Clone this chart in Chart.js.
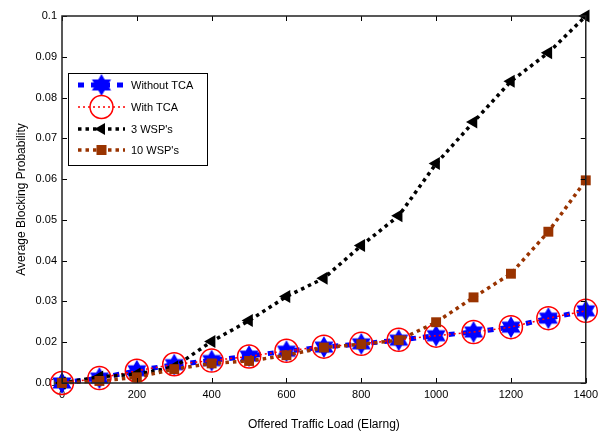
<!DOCTYPE html>
<html>
<head>
<meta charset="utf-8">
<script src="https://cdn.jsdelivr.net/npm/chart.js@4/dist/chart.umd.min.js"></script>
<style>
  html, body { margin: 0; padding: 0; background: #fff; }
  #wrap { width: 603px; height: 436px; }
</style>
</head>
<body>
<div id="wrap"><canvas id="myChart" width="603" height="436"></canvas></div>
<script>
// data
const loads = [0, 100, 200, 300, 400, 500, 600, 700, 800, 900, 1000, 1100, 1200, 1300, 1400];
const withoutTCA = [0.0100, 0.0112, 0.0130, 0.0145, 0.0155, 0.0166, 0.0178, 0.0188, 0.0196, 0.0205, 0.0216, 0.0225, 0.0237, 0.0259, 0.0277];
const withTCA = [0.0100, 0.0112, 0.0130, 0.0146, 0.0155, 0.0165, 0.0179, 0.0189, 0.0196, 0.0206, 0.0216, 0.0225, 0.0237, 0.0259, 0.0277];
const wsp3 = [0.0100, 0.0115, 0.0122, 0.0139, 0.0202, 0.0253, 0.0312, 0.0357, 0.0437, 0.0510, 0.0638, 0.0740, 0.0840, 0.0910, 0.1000];
const wsp10 = [0.0100, 0.0105, 0.0114, 0.0134, 0.0148, 0.0154, 0.0168, 0.0187, 0.0195, 0.0205, 0.0249, 0.0310, 0.0368, 0.0471, 0.0597];
const seriesNames = ["Without TCA", "With TCA", "3 WSP's", "10 WSP's"];
const xTicks = [0, 200, 400, 600, 800, 1000, 1200, 1400];
const yTicks = [0.01, 0.02, 0.03, 0.04, 0.05, 0.06, 0.07, 0.08, 0.09, 0.1];

const BLUE = "#0000ff";
const RED = "#ff0000";
const BLACK = "#000000";
const BROWN = "#993300";
const FONT = "'Liberation Sans', Arial, sans-serif";

// six pointed star (hexagram) marker
function makeHexagram(r, color) {
  const c = document.createElement("canvas");
  const s = Math.ceil(r * 2 + 4);
  c.width = s; c.height = s;
  const g = c.getContext("2d");
  const cx = s / 2, cy = s / 2;
  const inner = r / Math.sqrt(3);
  g.beginPath();
  for (let i = 0; i < 12; i++) {
    const a = -Math.PI / 2 + i * Math.PI / 6;
    const rr = i % 2 === 0 ? r : inner;
    const px = cx + rr * Math.cos(a), py = cy + rr * Math.sin(a);
    if (i === 0) g.moveTo(px, py); else g.lineTo(px, py);
  }
  g.closePath();
  g.fillStyle = color;
  g.fill();
  return c;
}
const hexStar = makeHexagram(11, BLUE);

function toXY(ys) {
  return loads.map((x, i) => ({ x: x, y: ys[i] }));
}

// inward ticks + box, matlab style
const boxPlugin = {
  id: "box",
  afterDatasetsDraw(chart) {
    const { ctx, chartArea: a, scales } = chart;
    ctx.save();
    ctx.strokeStyle = "#000";
    ctx.lineWidth = 1;
    ctx.beginPath();
    xTicks.forEach(v => {
      const px = Math.round(scales.x.getPixelForValue(v)) + 0.5;
      ctx.moveTo(px, a.bottom); ctx.lineTo(px, a.bottom - 5);
      ctx.moveTo(px, a.top); ctx.lineTo(px, a.top + 5);
    });
    yTicks.forEach(v => {
      const py = Math.round(scales.y.getPixelForValue(v)) + 0.5;
      ctx.moveTo(a.left, py); ctx.lineTo(a.left + 5, py);
      ctx.moveTo(a.right, py); ctx.lineTo(a.right - 5, py);
    });
    ctx.stroke();
    ctx.lineWidth = 1.5;
    ctx.strokeStyle = "#222";
    ctx.strokeRect(a.left, a.top, a.right - a.left, a.bottom - a.top);
    ctx.restore();
  }
};

// legend with line sample and marker
const legendPlugin = {
  id: "matLegend",
  afterDraw(chart) {
    const ctx = chart.ctx;
    const bx = 68, by = 73, bw = 139, bh = 92;
    ctx.save();
    ctx.fillStyle = "#fff";
    ctx.fillRect(bx, by, bw, bh);
    ctx.strokeStyle = "#000";
    ctx.lineWidth = 1;
    ctx.strokeRect(bx + 0.5, by + 0.5, bw, bh);
    const rowY = [85, 107, 129, 150];
    chart.data.datasets.forEach((ds, i) => {
      const y = rowY[i];
      ctx.save();
      ctx.strokeStyle = ds.borderColor;
      ctx.lineWidth = ds.borderWidth;
      ctx.setLineDash(ds.borderDash);
      ctx.beginPath();
      ctx.moveTo(78, y); ctx.lineTo(125, y);
      ctx.stroke();
      ctx.restore();
      const mx = 101.5;
      if (i === 0) {
        ctx.drawImage(hexStar, mx - hexStar.width / 2, y - hexStar.height / 2);
      } else if (i === 1) {
        ctx.strokeStyle = RED; ctx.lineWidth = 1.5;
        ctx.beginPath(); ctx.arc(mx, y, 11.5, 0, Math.PI * 2); ctx.stroke();
      } else if (i === 2) {
        ctx.fillStyle = BLACK;
        ctx.beginPath();
        ctx.moveTo(mx - 7, y); ctx.lineTo(mx + 3.5, y - 6); ctx.lineTo(mx + 3.5, y + 6);
        ctx.closePath(); ctx.fill();
      } else {
        ctx.fillStyle = BROWN;
        ctx.fillRect(mx - 5, y - 5, 10, 10);
      }
      ctx.fillStyle = "#000";
      ctx.font = "11px " + FONT;
      ctx.textBaseline = "middle";
      ctx.fillText(ds.label, 131, y + 1);
    });
    ctx.restore();
  }
};

new Chart("myChart", {
  type: "line",
  data: {
    datasets: [
      {
        label: seriesNames[0],
        data: toXY(withoutTCA),
        borderColor: BLUE,
        backgroundColor: BLUE,
        borderWidth: 5,
        borderDash: [6, 7],
        pointStyle: hexStar,
        pointRadius: 11,
        order: 3,
      },
      {
        label: seriesNames[1],
        data: toXY(withTCA),
        borderColor: RED,
        backgroundColor: "rgba(0,0,0,0)",
        borderWidth: 1.5,
        borderDash: [2, 3],
        pointStyle: "circle",
        pointRadius: 11.5,
        pointBorderWidth: 1.5,
        pointBorderColor: RED,
        pointBackgroundColor: "rgba(0,0,0,0)",
        order: 2,
      },
      {
        label: seriesNames[2],
        data: toXY(wsp3),
        borderColor: BLACK,
        backgroundColor: BLACK,
        borderWidth: 3.5,
        borderDash: [3.5, 4],
        pointStyle: "triangle",
        pointRotation: -90,
        pointRadius: 7.5,
        pointBorderWidth: 0,
        order: 1,
      },
      {
        label: seriesNames[3],
        data: toXY(wsp10),
        borderColor: BROWN,
        backgroundColor: BROWN,
        borderWidth: 3.5,
        borderDash: [3.5, 4],
        pointStyle: "rect",
        pointRadius: 7,
        pointBorderWidth: 0,
        order: 0,
      },
    ],
  },
  options: {
    responsive: false,
    animation: false,
    clip: false,
    elements: { line: { tension: 0, fill: false } },
    layout: { padding: { top: 15, right: 16, left: 0, bottom: 0 } },
    plugins: {
      legend: { display: false },
      tooltip: { enabled: false },
    },
    scales: {
      x: {
        type: "linear",
        min: 0,
        max: 1400,
        afterFit: s => { s.height = 53; },
        afterBuildTicks: s => { s.ticks = xTicks.map(v => ({ value: v })); },
        grid: { display: false, drawTicks: false },
        border: { display: false },
        ticks: {
          color: "#000",
          padding: 5,
          maxRotation: 0,
          font: { family: FONT, size: 11 },
          callback: v => String(v),
        },
        title: {
          display: true,
          text: "Offered Traffic Load (Elarng)",
          color: "#000",
          padding: { top: 0, bottom: 4 },
          font: { family: FONT, size: 12 },
        },
      },
      y: {
        type: "linear",
        min: 0.01,
        max: 0.1,
        afterFit: s => { s.width = 62; },
        afterBuildTicks: s => { s.ticks = yTicks.map(v => ({ value: v })); },
        grid: { display: false, drawTicks: false },
        border: { display: false },
        ticks: {
          color: "#000",
          padding: 5,
          font: { family: FONT, size: 11 },
          callback: v => String(Number(v.toFixed(2))),
        },
        title: {
          display: true,
          text: "Average Blocking Probability",
          color: "#000",
          padding: { top: 14, bottom: 0 },
          font: { family: FONT, size: 12 },
        },
      },
    },
  },
  plugins: [boxPlugin, legendPlugin],
});
</script>
</body>
</html>
